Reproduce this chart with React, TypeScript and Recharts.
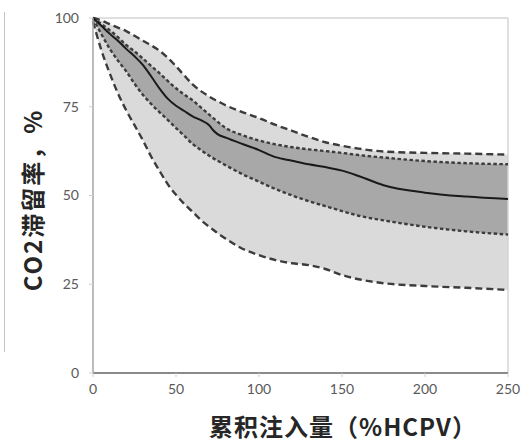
import { Area, ComposedChart, Label, Line, ReferenceLine, XAxis, YAxis } from "recharts";

// cumulative injection, %HCPV
const injected = [0, 5, 10, 15, 20, 25, 30, 35, 40, 45, 50, 55, 60, 65, 70, 72, 75, 80, 90, 100, 110, 120, 130, 140, 150, 160, 175, 200, 225, 250];

// CO2 retention, %
const outerHigh = [100, 99.3, 98.3, 97.3, 96.3, 95, 93.6, 92.3, 90.8, 88.8, 86.4, 83.8, 81.3, 79.4, 77.9, 77.3, 76.6, 75.4, 73.5, 71.8, 69.9, 68.2, 66.5, 65, 64, 63.2, 62.4, 62, 61.8, 61.5];
const innerHigh = [100, 98.3, 96.6, 94.6, 92.4, 90.6, 88.6, 86.5, 84.5, 82.3, 80.2, 78.4, 76.8, 74.8, 72.8, 72, 70.8, 69, 67, 65.5, 64.4, 63.6, 63, 62.5, 62, 61.4, 60.7, 59.7, 59.1, 58.8];
const median = [100, 97.8, 95.6, 93.6, 91.3, 89.2, 86.8, 83.6, 80.2, 77.3, 75.3, 73.8, 72.3, 71.2, 69.8, 68.6, 67.3, 66.3, 64.5, 62.8, 60.8, 59.8, 58.8, 58, 57, 55.5, 52.9, 50.8, 49.7, 49];
const innerLow = [100, 95.5, 91.4, 88, 85, 81.5, 78.4, 75.8, 73.5, 71.3, 69, 66.8, 64.5, 62.8, 61.2, 60.6, 59.8, 58.5, 56, 53.9, 51.8, 50, 48.4, 47, 45.6, 44.3, 43, 41.2, 39.9, 39];
const outerLow = [99, 91, 84.5, 78.8, 74, 69.8, 65.6, 61, 57, 53.2, 50.2, 47.6, 45.4, 43.1, 41.2, 40.5, 39.4, 37.8, 35, 33.2, 31.8, 30.9, 30.4, 29.3, 27.6, 26.4, 25.3, 24.5, 24, 23.4];

const xTicks = [0, 50, 100, 150, 200, 250];
const yTicks = [0, 25, 50, 75, 100];

const data = injected.map((x, i) => ({
  x,
  outer: [outerLow[i], outerHigh[i]],
  inner: [innerLow[i], innerHigh[i]],
  outerHigh: outerHigh[i],
  innerHigh: innerHigh[i],
  median: median[i],
  innerLow: innerLow[i],
  outerLow: outerLow[i],
}));

const tickStyle = { fill: "#595959", fontSize: 14, fontFamily: "Lato, 'Open Sans', sans-serif" };
const titleFont = "'Noto Sans CJK SC', 'Noto Sans', sans-serif";

export default function App() {
  return (
    <div style={{ position: "relative", width: 521, height: 443, background: "#fff" }}>
      <style>{`body{margin:0}`}</style>
      {/* edge of the neighbouring panel */}
      <div style={{ position: "absolute", left: 4, top: 12, width: 1, height: 340, background: "#c4c4c4" }} />
      <ComposedChart width={521} height={443} data={data} margin={{ top: 18, right: 13, bottom: 0, left: 0 }}>
        <XAxis
          dataKey="x"
          type="number"
          domain={[0, 250]}
          ticks={xTicks}
          tick={tickStyle}
          tickSize={4}
          tickMargin={7}
          tickLine={{ stroke: "#cfcfcf" }}
          axisLine={{ stroke: "#8a8a8a", strokeWidth: 2 }}
          height={70}
        >
          <Label
            content={() => (
              <text x={343} y={436} textAnchor="middle" fontFamily={titleFont} fontWeight={700} fontSize={24} letterSpacing={1} fill="#262626">
                累积注入量（%HCPV）
              </text>
            )}
          />
        </XAxis>
        <YAxis
          type="number"
          domain={[0, 100]}
          ticks={yTicks}
          tick={tickStyle}
          tickSize={4}
          tickMargin={10}
          tickLine={{ stroke: "#cfcfcf" }}
          axisLine={{ stroke: "#a6a6a6", strokeWidth: 1.5 }}
          width={93}
        >
          <Label
            content={() => (
              <text
                x={31}
                y={200}
                transform="rotate(-90 31 200)"
                textAnchor="middle"
                dominantBaseline="central"
                fontFamily={titleFont}
                fontWeight={700}
                fontSize={24}
                letterSpacing={2}
                fill="#262626"
              >
                CO2滞留率，%
              </text>
            )}
          />
        </YAxis>
        <ReferenceLine y={100} stroke="#d4d4d4" strokeWidth={1.5} />
        <ReferenceLine x={250} stroke="#d4d4d4" strokeWidth={1.5} />
        <Area type="monotone" dataKey="outer" fill="#dadada" fillOpacity={1} stroke="none" isAnimationActive={false} />
        <Area type="monotone" dataKey="inner" fill="#a8a8a8" fillOpacity={1} stroke="none" isAnimationActive={false} />
        <Line type="monotone" dataKey="outerHigh" stroke="#3c3c3c" strokeWidth={2.4} strokeDasharray="7 4" dot={false} isAnimationActive={false} />
        <Line type="monotone" dataKey="outerLow" stroke="#3c3c3c" strokeWidth={2.4} strokeDasharray="7 4" dot={false} isAnimationActive={false} />
        <Line type="monotone" dataKey="innerHigh" stroke="#3c3c3c" strokeWidth={2.4} strokeDasharray="3.5 2.5" dot={false} isAnimationActive={false} />
        <Line type="monotone" dataKey="innerLow" stroke="#3c3c3c" strokeWidth={2.4} strokeDasharray="3.5 2.5" dot={false} isAnimationActive={false} />
        <Line type="monotone" dataKey="median" stroke="#1a1a1a" strokeWidth={2} dot={false} isAnimationActive={false} />
      </ComposedChart>
    </div>
  );
}
